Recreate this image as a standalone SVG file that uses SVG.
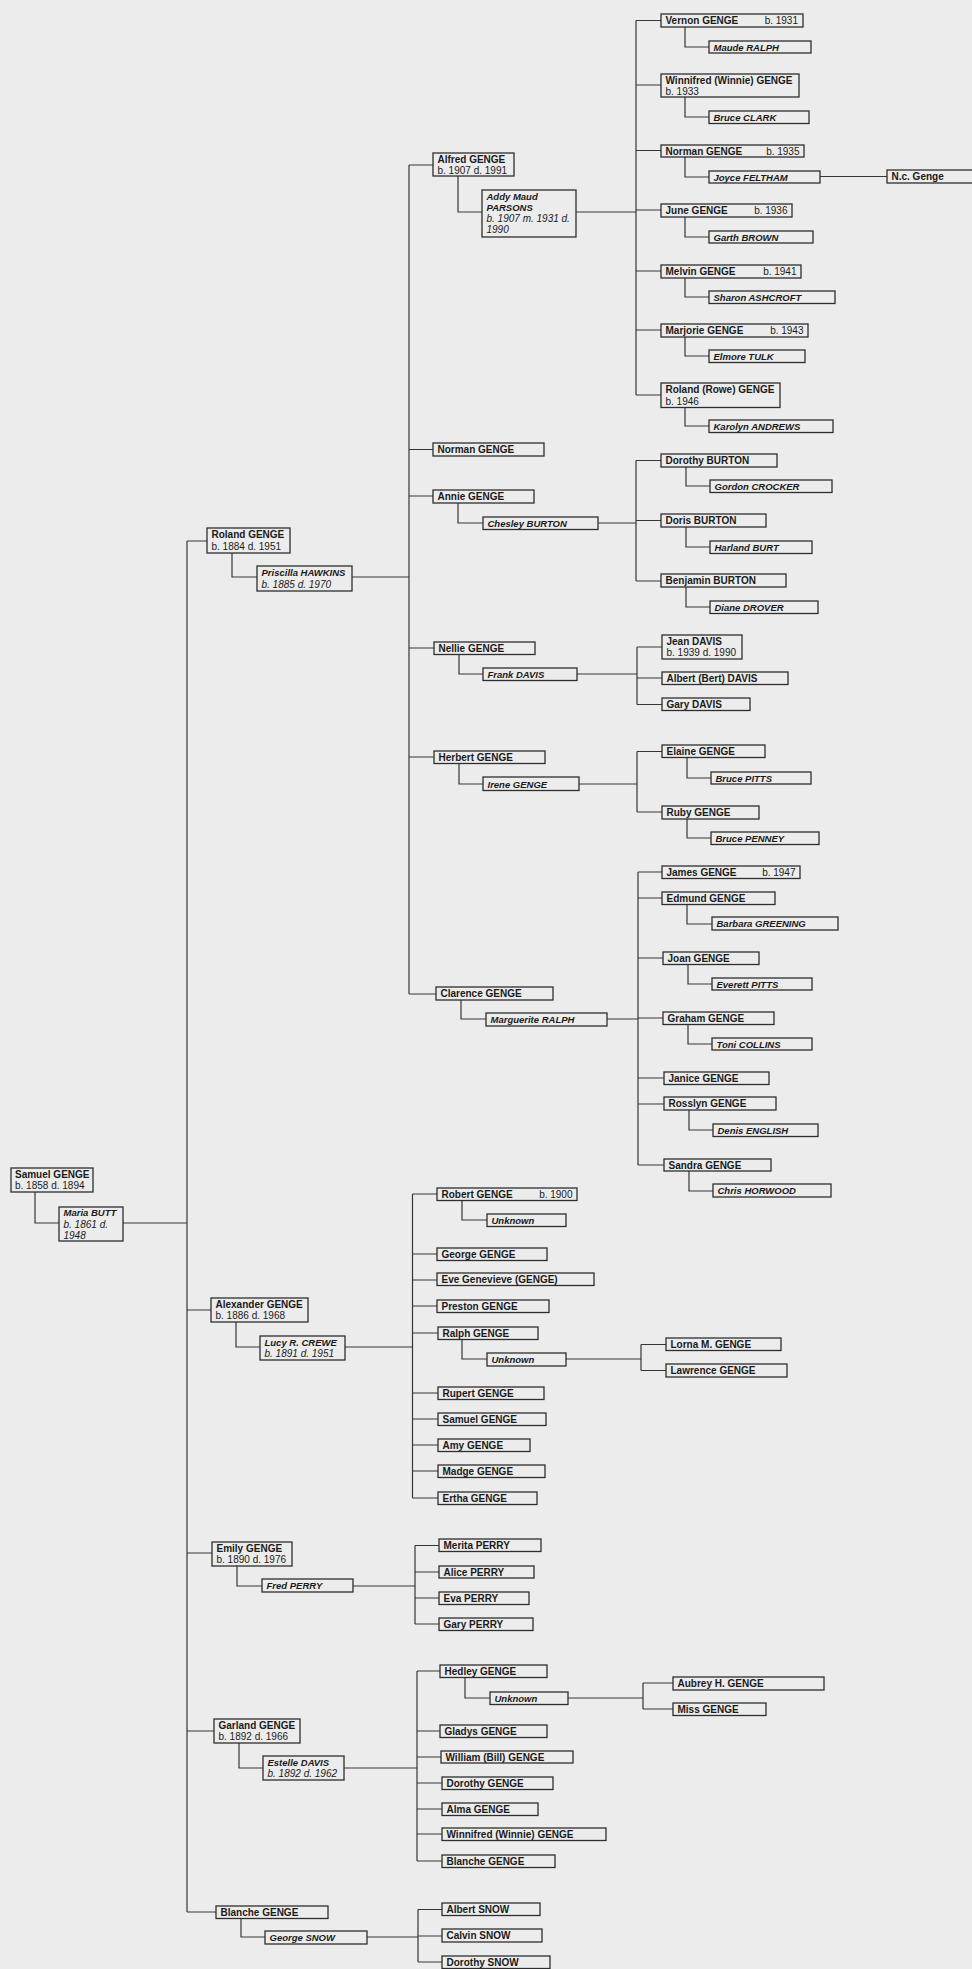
<svg xmlns="http://www.w3.org/2000/svg" width="972" height="1969" viewBox="0 0 972 1969">
<style>
.bg{fill:#ececec}
.bx{fill:#ececec;stroke:#2e2e2e;stroke-width:1.3}
text{font-family:"Liberation Sans",Arial,sans-serif;font-size:10px;fill:#1a1a1a}
.n{font-weight:bold}
.s{font-weight:bold;font-style:italic;font-size:9.5px}
.di{font-style:italic}
.r{text-anchor:end}
.c{fill:none;stroke:#363636;stroke-width:1.2}
</style>
<rect class="bg" x="0" y="0" width="972" height="1969"/>
<g id="connectors" class="c">
<path d="M187 541V1912"/>
<path d="M35 1192V1223H59M123 1223H187"/>
<path d="M187 541H207M187 1310H211M187 1553H212M187 1731H214M187 1912H216"/>
<path d="M232 553V577H257M352 577H409"/>
<path d="M236 1322V1347H260M345 1347H413"/>
<path d="M237 1566V1586H262M353 1586H415"/>
<path d="M239 1743V1768H263M344 1768H417"/>
<path d="M241 1918V1937H265M367 1937H418"/>
<path d="M409 165V994M409 165H433M409 449.5H433M409 496H433M409 648H434M409 757H434M409 994H436"/>
<path d="M458 176V212H482M576 212H636"/>
<path d="M458 503V523H483M598 523H636"/>
<path d="M459 654V674H483M577 674H637"/>
<path d="M459 763V784H483M579 784H637"/>
<path d="M461 1000V1019H486M607 1019H638"/>
<path d="M636 20.5V395M636 20.5H661M636 85H661M636 150.5H661M636 210H661M636 271H661M636 330H661M636 395H661"/>
<path d="M685 27V47H709M685 97V117H709M685 157V177H709M685 217V237H709M685 278V297H709M685 337V356H709M685 407V426H709"/>
<path d="M820 176.5H887"/>
<path d="M636 460.5V581M636 460.5H661M636 520.5H661M636 581H661"/>
<path d="M686 467V486H710M686 527V547H710M686 587V607H710"/>
<path d="M637 647V704.5M637 647H662M637 678H662M637 704.5H662"/>
<path d="M637 751.5V812M637 751.5H662M637 812H662M687 758V778H711M687 819V838H711"/>
<path d="M638 872V1165M638 872H662M638 898H662M638 958H663M638 1018H663M638 1078H664M638 1104H664M638 1165H664"/>
<path d="M687 904V924H712M688 964V984H712M688 1024V1044H712M689 1110V1130H713M689 1171V1191H713"/>
<path d="M412.5 1194V1498M412.5 1194H437M412.5 1254H437M412.5 1280H437M412.5 1306H437M412.5 1333H438M412.5 1393H438M412.5 1419H438M412.5 1445H438M412.5 1471H438M412.5 1498H438"/>
<path d="M462 1201V1220H487M462 1339V1359H487M566 1359H641M641 1344.5V1370.5M641 1344.5H666M641 1370.5H666"/>
<path d="M415 1545.5V1624M415 1545.5H439M415 1572H439M415 1598H439M415 1624H439"/>
<path d="M417 1671V1861M417 1671H440M417 1731H440M417 1757H441M417 1783H442M417 1809H442M417 1834H442M417 1861H442"/>
<path d="M465 1677V1698H490M568 1698H643M643 1683V1709M643 1683H673M643 1709H673"/>
<path d="M418 1909.5V1962M418 1909.5H442M418 1936H442M418 1962H442"/>
</g>
<g id="samuel"><rect class="bx" x="11" y="1168" width="82" height="24"/><text class="n" x="15" y="1177.5">Samuel GENGE</text><text x="15" y="1189">b. 1858 d. 1894</text></g>
<g id="maria"><rect class="bx" x="59" y="1207" width="64" height="34"/><text class="s" x="63.5" y="1216">Maria BUTT</text><text class="di" x="63.5" y="1227.5">b. 1861 d.</text><text class="di" x="63.5" y="1238.5">1948</text></g>
<g id="roland"><rect class="bx" x="207" y="528" width="83" height="25"/><text class="n" x="211.5" y="537.5">Roland GENGE</text><text x="211.5" y="549.5">b. 1884 d. 1951</text></g>
<g id="priscilla"><rect class="bx" x="257" y="566" width="95" height="25"/><text class="s" x="261.5" y="575.5">Priscilla HAWKINS</text><text class="di" x="261.5" y="587.5">b. 1885 d. 1970</text></g>
<g id="alexander"><rect class="bx" x="211" y="1298" width="97" height="24"/><text class="n" x="215.5" y="1307.5">Alexander GENGE</text><text x="215.5" y="1319">b. 1886 d. 1968</text></g>
<g id="lucy"><rect class="bx" x="260" y="1336" width="85" height="24"/><text class="s" x="264.5" y="1345.5">Lucy R. CREWE</text><text class="di" x="264.5" y="1357">b. 1891 d. 1951</text></g>
<g id="emily"><rect class="bx" x="212" y="1542" width="80" height="24"/><text class="n" x="216.5" y="1551.5">Emily GENGE</text><text x="216.5" y="1563">b. 1890 d. 1976</text></g>
<g id="fred"><rect class="bx" x="262" y="1579" width="91" height="13"/><text class="s" x="266.5" y="1589">Fred PERRY</text></g>
<g id="garland"><rect class="bx" x="214" y="1719" width="86" height="24"/><text class="n" x="218.5" y="1728.5">Garland GENGE</text><text x="218.5" y="1740">b. 1892 d. 1966</text></g>
<g id="estelle"><rect class="bx" x="263" y="1756" width="81" height="24"/><text class="s" x="267.5" y="1765.5">Estelle DAVIS</text><text class="di" x="267.5" y="1777">b. 1892 d. 1962</text></g>
<g id="blanche1"><rect class="bx" x="216" y="1906" width="112" height="12.5"/><text class="n" x="220.5" y="1916">Blanche GENGE</text></g>
<g id="george_snow"><rect class="bx" x="265" y="1931" width="102" height="13"/><text class="s" x="269.5" y="1941">George SNOW</text></g>
<g id="alfred"><rect class="bx" x="433" y="153" width="81" height="23"/><text class="n" x="437.5" y="162.5">Alfred GENGE</text><text x="437.5" y="174">b. 1907 d. 1991</text></g>
<g id="addy"><rect class="bx" x="482" y="190" width="94" height="47"/><text class="s" x="486.5" y="199.5">Addy Maud</text><text class="s" x="486.5" y="210.5">PARSONS</text><text class="di" x="486.5" y="221.5">b. 1907 m. 1931 d.</text><text class="di" x="486.5" y="232.5">1990</text></g>
<g id="norman_r"><rect class="bx" x="433" y="443" width="111" height="13"/><text class="n" x="437.5" y="453">Norman GENGE</text></g>
<g id="annie"><rect class="bx" x="433" y="490" width="101" height="13"/><text class="n" x="437.5" y="500">Annie GENGE</text></g>
<g id="chesley"><rect class="bx" x="483" y="517" width="115" height="12.5"/><text class="s" x="487.5" y="527">Chesley BURTON</text></g>
<g id="nellie"><rect class="bx" x="434" y="642" width="101" height="12.5"/><text class="n" x="438.5" y="652">Nellie GENGE</text></g>
<g id="frank"><rect class="bx" x="483" y="668" width="94" height="12.5"/><text class="s" x="487.5" y="678">Frank DAVIS</text></g>
<g id="herbert"><rect class="bx" x="434" y="751" width="111" height="12.5"/><text class="n" x="438.5" y="761">Herbert GENGE</text></g>
<g id="irene"><rect class="bx" x="483" y="777" width="96" height="13.5"/><text class="s" x="487.5" y="787.5">Irene GENGE</text></g>
<g id="clarence"><rect class="bx" x="436" y="987" width="117" height="13"/><text class="n" x="440.5" y="997">Clarence GENGE</text></g>
<g id="marguerite"><rect class="bx" x="486" y="1013" width="121" height="13"/><text class="s" x="490.5" y="1023">Marguerite RALPH</text></g>
<g id="vernon"><rect class="bx" x="661" y="14" width="142" height="13"/><text class="n" x="665.5" y="24">Vernon GENGE</text><text class="r" x="798" y="24">b. 1931</text></g>
<g id="maude"><rect class="bx" x="709" y="41" width="102" height="12"/><text class="s" x="713.5" y="50.5">Maude RALPH</text></g>
<g id="winnifred_a"><rect class="bx" x="661" y="74" width="138" height="23"/><text class="n" x="665.5" y="83.5">Winnifred (Winnie) GENGE</text><text x="665.5" y="95">b. 1933</text></g>
<g id="bruce_clark"><rect class="bx" x="709" y="111" width="100" height="12.5"/><text class="s" x="713.5" y="121">Bruce CLARK</text></g>
<g id="norman_a"><rect class="bx" x="661" y="145" width="143" height="12"/><text class="n" x="665.5" y="154.5">Norman GENGE</text><text class="r" x="799.5" y="154.5">b. 1935</text></g>
<g id="joyce"><rect class="bx" x="709" y="171" width="111" height="12"/><text class="s" x="713.5" y="180.5">Joyce FELTHAM</text></g>
<g id="ncgenge"><rect class="bx" x="887" y="170" width="90" height="13"/><text class="n" x="891.5" y="180">N.c. Genge</text></g>
<g id="june"><rect class="bx" x="661" y="204" width="131" height="13"/><text class="n" x="665.5" y="214">June GENGE</text><text class="r" x="787.5" y="214">b. 1936</text></g>
<g id="garth"><rect class="bx" x="709" y="231" width="104" height="12"/><text class="s" x="713.5" y="240.5">Garth BROWN</text></g>
<g id="melvin"><rect class="bx" x="661" y="265" width="140" height="13"/><text class="n" x="665.5" y="275">Melvin GENGE</text><text class="r" x="796.5" y="275">b. 1941</text></g>
<g id="sharon"><rect class="bx" x="709" y="291" width="126" height="12.5"/><text class="s" x="713.5" y="301">Sharon ASHCROFT</text></g>
<g id="marjorie"><rect class="bx" x="661" y="324" width="147" height="13"/><text class="n" x="665.5" y="334">Marjorie GENGE</text><text class="r" x="803.5" y="334">b. 1943</text></g>
<g id="elmore"><rect class="bx" x="709" y="350" width="96" height="12.5"/><text class="s" x="713.5" y="360">Elmore TULK</text></g>
<g id="roland_rowe"><rect class="bx" x="661" y="383" width="119" height="24.5"/><text class="n" x="665.5" y="392.5">Roland (Rowe) GENGE</text><text x="665.5" y="404.5">b. 1946</text></g>
<g id="karolyn"><rect class="bx" x="709" y="420" width="124" height="12.5"/><text class="s" x="713.5" y="430">Karolyn ANDREWS</text></g>
<g id="dorothy_b"><rect class="bx" x="661" y="454" width="116" height="13"/><text class="n" x="665.5" y="464">Dorothy BURTON</text></g>
<g id="gordon"><rect class="bx" x="710" y="480" width="122" height="12.5"/><text class="s" x="714.5" y="490">Gordon CROCKER</text></g>
<g id="doris"><rect class="bx" x="661" y="514" width="105" height="13"/><text class="n" x="665.5" y="524">Doris BURTON</text></g>
<g id="harland"><rect class="bx" x="710" y="541" width="102" height="12.5"/><text class="s" x="714.5" y="551">Harland BURT</text></g>
<g id="benjamin"><rect class="bx" x="661" y="574" width="125" height="13"/><text class="n" x="665.5" y="584">Benjamin BURTON</text></g>
<g id="diane"><rect class="bx" x="710" y="601" width="108" height="12.5"/><text class="s" x="714.5" y="611">Diane DROVER</text></g>
<g id="jean_davis"><rect class="bx" x="662" y="635" width="80" height="24"/><text class="n" x="666.5" y="644.5">Jean DAVIS</text><text x="666.5" y="656">b. 1939 d. 1990</text></g>
<g id="albert_davis"><rect class="bx" x="662" y="672" width="126" height="12.5"/><text class="n" x="666.5" y="682">Albert (Bert) DAVIS</text></g>
<g id="gary_davis"><rect class="bx" x="662" y="698" width="88" height="12.5"/><text class="n" x="666.5" y="708">Gary DAVIS</text></g>
<g id="elaine"><rect class="bx" x="662" y="745" width="103" height="12.5"/><text class="n" x="666.5" y="755">Elaine GENGE</text></g>
<g id="bruce_pitts"><rect class="bx" x="711" y="772" width="100" height="12"/><text class="s" x="715.5" y="781.5">Bruce PITTS</text></g>
<g id="ruby"><rect class="bx" x="662" y="806" width="97" height="13"/><text class="n" x="666.5" y="816">Ruby GENGE</text></g>
<g id="bruce_penney"><rect class="bx" x="711" y="832" width="108" height="12.5"/><text class="s" x="715.5" y="842">Bruce PENNEY</text></g>
<g id="james"><rect class="bx" x="662" y="866" width="138" height="12.5"/><text class="n" x="666.5" y="876">James GENGE</text><text class="r" x="795.5" y="876">b. 1947</text></g>
<g id="edmund"><rect class="bx" x="662" y="892" width="113" height="12.5"/><text class="n" x="666.5" y="902">Edmund GENGE</text></g>
<g id="barbara"><rect class="bx" x="712" y="917" width="126" height="13"/><text class="s" x="716.5" y="927">Barbara GREENING</text></g>
<g id="joan"><rect class="bx" x="663" y="952" width="96" height="12.5"/><text class="n" x="667.5" y="962">Joan GENGE</text></g>
<g id="everett"><rect class="bx" x="712" y="978" width="100" height="12"/><text class="s" x="716.5" y="987.5">Everett PITTS</text></g>
<g id="graham"><rect class="bx" x="663" y="1012" width="111" height="12.5"/><text class="n" x="667.5" y="1022">Graham GENGE</text></g>
<g id="toni"><rect class="bx" x="712" y="1038" width="100" height="12"/><text class="s" x="716.5" y="1047.5">Toni COLLINS</text></g>
<g id="janice"><rect class="bx" x="664" y="1072" width="105" height="12.5"/><text class="n" x="668.5" y="1082">Janice GENGE</text></g>
<g id="rosslyn"><rect class="bx" x="664" y="1097" width="112" height="13"/><text class="n" x="668.5" y="1107">Rosslyn GENGE</text></g>
<g id="denis"><rect class="bx" x="713" y="1124" width="105" height="12.5"/><text class="s" x="717.5" y="1134">Denis ENGLISH</text></g>
<g id="sandra"><rect class="bx" x="664" y="1159" width="107" height="12"/><text class="n" x="668.5" y="1168.5">Sandra GENGE</text></g>
<g id="chris"><rect class="bx" x="713" y="1184" width="118" height="13"/><text class="s" x="717.5" y="1194">Chris HORWOOD</text></g>
<g id="robert"><rect class="bx" x="437" y="1188" width="140" height="12.5"/><text class="n" x="441.5" y="1198">Robert GENGE</text><text class="r" x="572.5" y="1198">b. 1900</text></g>
<g id="unknown_r"><rect class="bx" x="487" y="1214" width="79" height="12.5"/><text class="s" x="491.5" y="1224">Unknown</text></g>
<g id="george_g"><rect class="bx" x="437" y="1248" width="110" height="12.5"/><text class="n" x="441.5" y="1258">George GENGE</text></g>
<g id="eve"><rect class="bx" x="437" y="1273" width="157" height="12.5"/><text class="n" x="441.5" y="1283">Eve Genevieve (GENGE)</text></g>
<g id="preston"><rect class="bx" x="437" y="1300" width="112" height="12.5"/><text class="n" x="441.5" y="1310">Preston GENGE</text></g>
<g id="ralph"><rect class="bx" x="438" y="1327" width="100" height="12.5"/><text class="n" x="442.5" y="1337">Ralph GENGE</text></g>
<g id="unknown_ra"><rect class="bx" x="487" y="1353" width="79" height="13"/><text class="s" x="491.5" y="1363">Unknown</text></g>
<g id="lorna"><rect class="bx" x="666" y="1338" width="115" height="12.5"/><text class="n" x="670.5" y="1348">Lorna M. GENGE</text></g>
<g id="lawrence"><rect class="bx" x="666" y="1364" width="121" height="13"/><text class="n" x="670.5" y="1374">Lawrence GENGE</text></g>
<g id="rupert"><rect class="bx" x="438" y="1387" width="106" height="12.5"/><text class="n" x="442.5" y="1397">Rupert GENGE</text></g>
<g id="samuel2"><rect class="bx" x="438" y="1413" width="108" height="12.5"/><text class="n" x="442.5" y="1423">Samuel GENGE</text></g>
<g id="amy"><rect class="bx" x="438" y="1439" width="92" height="12.5"/><text class="n" x="442.5" y="1449">Amy GENGE</text></g>
<g id="madge"><rect class="bx" x="438" y="1465" width="107" height="12.5"/><text class="n" x="442.5" y="1475">Madge GENGE</text></g>
<g id="ertha"><rect class="bx" x="438" y="1492" width="99" height="12.5"/><text class="n" x="442.5" y="1502">Ertha GENGE</text></g>
<g id="merita"><rect class="bx" x="439" y="1539" width="102" height="12.5"/><text class="n" x="443.5" y="1549">Merita PERRY</text></g>
<g id="alice"><rect class="bx" x="439" y="1566" width="95" height="12"/><text class="n" x="443.5" y="1575.5">Alice PERRY</text></g>
<g id="eva"><rect class="bx" x="439" y="1592" width="90" height="12.5"/><text class="n" x="443.5" y="1602">Eva PERRY</text></g>
<g id="gary_p"><rect class="bx" x="439" y="1618" width="94" height="12.5"/><text class="n" x="443.5" y="1628">Gary PERRY</text></g>
<g id="hedley"><rect class="bx" x="440" y="1665" width="107" height="12.5"/><text class="n" x="444.5" y="1675">Hedley GENGE</text></g>
<g id="unknown_h"><rect class="bx" x="490" y="1692" width="78" height="12.5"/><text class="s" x="494.5" y="1702">Unknown</text></g>
<g id="aubrey"><rect class="bx" x="673" y="1677" width="151" height="13"/><text class="n" x="677.5" y="1687">Aubrey H. GENGE</text></g>
<g id="miss"><rect class="bx" x="673" y="1703" width="93" height="12.5"/><text class="n" x="677.5" y="1713">Miss GENGE</text></g>
<g id="gladys"><rect class="bx" x="440" y="1725" width="107" height="12.5"/><text class="n" x="444.5" y="1735">Gladys GENGE</text></g>
<g id="william"><rect class="bx" x="441" y="1751" width="132" height="12"/><text class="n" x="445.5" y="1760.5">William (Bill) GENGE</text></g>
<g id="dorothy_g"><rect class="bx" x="442" y="1777" width="111" height="12.5"/><text class="n" x="446.5" y="1787">Dorothy GENGE</text></g>
<g id="alma"><rect class="bx" x="442" y="1803" width="96" height="12.5"/><text class="n" x="446.5" y="1813">Alma GENGE</text></g>
<g id="winnifred_g"><rect class="bx" x="442" y="1828" width="164" height="12.5"/><text class="n" x="446.5" y="1838">Winnifred (Winnie) GENGE</text></g>
<g id="blanche2"><rect class="bx" x="442" y="1855" width="113" height="12.5"/><text class="n" x="446.5" y="1865">Blanche GENGE</text></g>
<g id="albert_s"><rect class="bx" x="442" y="1903" width="98" height="12.5"/><text class="n" x="446.5" y="1913">Albert SNOW</text></g>
<g id="calvin"><rect class="bx" x="442" y="1929" width="100" height="13"/><text class="n" x="446.5" y="1939">Calvin SNOW</text></g>
<g id="dorothy_s"><rect class="bx" x="442" y="1956" width="108" height="12.5"/><text class="n" x="446.5" y="1966">Dorothy SNOW</text></g>
</svg>
